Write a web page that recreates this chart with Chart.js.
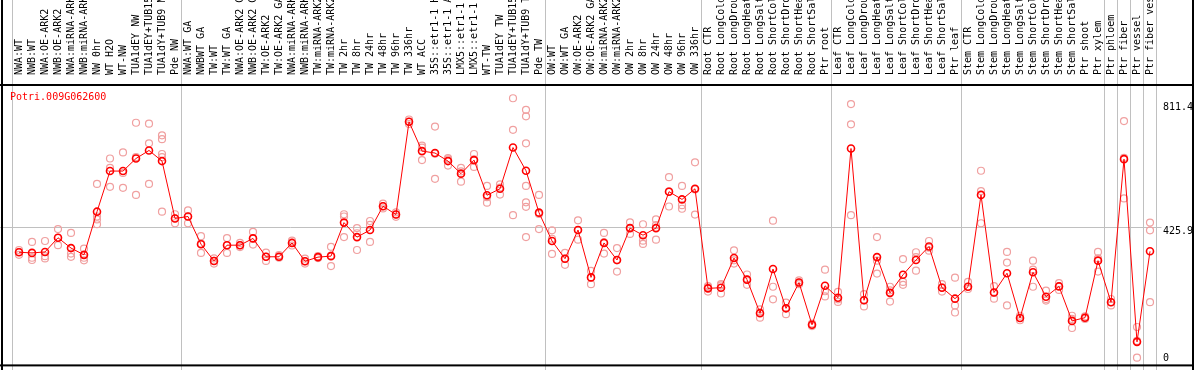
<!DOCTYPE html>
<html>
<head>
<meta charset="utf-8">
<script src="https://cdn.jsdelivr.net/npm/chart.js@4/dist/chart.umd.min.js"></script>
<style>
  html, body { margin: 0; padding: 0; background: #fff; }
</style>
</head>
<body>
<canvas id="geneChart" width="1194" height="370"></canvas>
<script>
const geneName = 'Potri.009G062600';

const categories = [
  'NWA:WT', 'NWB:WT', 'NWA:OE-ARK2', 'NWB:OE-ARK2', 'NWA:miRNA-ARK2', 'NWB:miRNA-ARK2',
  'NW 0hr', 'WT H2O', 'WT-NW', 'TUA1dEY NW', 'TUA1dEY+TUB15', 'TUA1dY+TUB9 NW', 'Pde NW',
  'NWA:WT GA', 'NWBWT GA', 'TW:WT', 'TW:WT GA', 'NWA:OE-ARK2 GA', 'NWB:OE-ARK2 GA',
  'TW:OE-ARK2', 'TW:OE-ARK2 GA', 'NWA:miRNA-ARK2', 'NWB:miRNA-ARK2', 'TW:miRNA-ARK2',
  'TW:miRNA-ARK2', 'TW 2hr', 'TW 8hr', 'TW 24hr', 'TW 48hr', 'TW 96hr', 'TW 336hr', 'WT ACC',
  '35S::etr1-1 H2O', '35S::etr1-1 ACC', 'LMX5::etr1-1 H2O', 'LMX5::etr1-1 ACC', 'WT-TW',
  'TUA1dEY TW', 'TUA1dEY+TUB15', 'TUA1dY+TUB9 TW', 'Pde TW',
  'OW:WT', 'OW:WT GA', 'OW:OE-ARK2', 'OW:OE-ARK2 GA', 'OW:miRNA-ARK2', 'OW:miRNA-ARK2',
  'OW 2hr', 'OW 8hr', 'OW 24hr', 'OW 48hr', 'OW 96hr', 'OW 336hr',
  'Root CTR', 'Root LongCold', 'Root LongDrought', 'Root LongHeat', 'Root LongSalt',
  'Root ShortCold', 'Root ShortDrought', 'Root ShortHeat', 'Root ShortSalt', 'Ptr root',
  'Leaf CTR', 'Leaf LongCold', 'Leaf LongDrought', 'Leaf LongHeat', 'Leaf LongSalt',
  'Leaf ShortCold', 'Leaf ShortDrought', 'Leaf ShortHeat', 'Leaf ShortSalt', 'Ptr leaf',
  'Stem CTR', 'Stem LongCold', 'Stem LongDrought', 'Stem LongHeat', 'Stem LongSalt',
  'Stem ShortCold', 'Stem ShortDrought', 'Stem ShortHeat', 'Stem ShortSalt', 'Ptr shoot',
  'Ptr xylem', 'Ptr phloem', 'Ptr fiber', 'Ptr vessel', 'Ptr fiber vessel'
];

// mean expression per sample (red line)
const means = [
  348, 346, 349, 393, 361, 340, 474, 600, 600, 639, 664, 631, 453,
  459, 373, 321, 370, 370, 391, 334, 334, 377, 320, 333, 336, 440, 395, 417, 491, 465,
  753, 662, 656, 631, 592, 634, 525, 545, 673, 601, 471,
  383, 328, 417, 270, 377, 324, 423, 401, 423, 536, 512, 545,
  236, 238, 330, 263, 159, 296, 174, 254, 123, 244,
  207, 670, 199, 333, 222, 278, 324, 366, 238, 204,
  241, 526, 223, 283, 144, 286, 210, 242, 135, 145, 322,
  193, 637, 70, 351
];

// individual replicates (pink circles)
const replicates = [
  [355, 349, 340], [380, 331, 324], [383, 336, 329], [420, 393, 370], [408, 344, 334],
  [359, 331, 323], [560, 459, 450, 435], [639, 610, 551], [658, 594, 548], [750, 643, 526],
  [747, 686, 560], [711, 699, 653, 643, 474], [466, 453, 438],
  [478, 459, 438], [398, 375, 346], [329, 321, 313], [392, 370, 346], [377, 370, 364],
  [411, 391, 372], [347, 334, 321], [339, 334, 331], [384, 377, 369], [328, 320, 313],
  [336, 333, 330], [365, 338, 305], [466, 459, 395], [423, 407, 355], [445, 433, 380],
  [499, 491, 484], [472, 465, 458], [760, 753, 746], [679, 673, 634], [738, 654, 576],
  [640, 636, 617], [610, 599, 567], [653, 636, 613], [554, 519, 502], [559, 549, 527],
  [826, 728, 463], [790, 770, 686, 554, 503, 489, 395], [526, 467, 420],
  [416, 390, 343], [346, 328, 309], [447, 417, 387], [290, 270, 249], [408, 379, 344],
  [361, 323, 288], [441, 423, 405], [435, 384, 374], [450, 432, 387], [581, 537, 490],
  [554, 494, 483], [627, 543, 465],
  [243, 239, 226], [249, 245, 220], [354, 323, 313], [279, 263, 247], [171, 161, 145],
  [446, 241, 202], [192, 174, 156], [261, 254, 249], [127, 123, 119], [294, 227, 211],
  [225, 202, 194], [808, 745, 463], [218, 199, 180], [395, 322, 282], [241, 230, 195],
  [327, 256, 247], [348, 333, 291], [383, 362, 353], [249, 239, 226], [269, 183, 161],
  [256, 241, 234], [601, 538, 438], [243, 222, 204], [349, 316, 183], [151, 144, 137],
  [322, 294, 241], [229, 203, 198], [252, 243, 231], [151, 141, 113], [149, 145, 141],
  [349, 329, 288],
  [203, 193, 183], [755, 641, 515], [116, 73, 21], [440, 416, 193]
];

// index of the first sample in each group (last entry closes the final group)
const groupStarts = [0, 13, 41, 53, 63, 73, 84, 85, 86, 87, 88];

const yTicks = [0, 425.9, 811.4];
const yMax = 864;

const FONT = '10px "DejaVu Sans Mono", monospace';

const meanPoints = means.map((v, i) => ({ x: i, y: v }));
const repPoints = [];
replicates.forEach((reps, i) => {
  reps.forEach(v => repPoints.push({ x: i, y: v }));
});

// gray separators, grid line, frame, title and y labels
const framePlugin = {
  id: 'frame',
  beforeDatasetsDraw(chart) {
    const { ctx, chartArea, scales } = chart;
    ctx.save();
    ctx.strokeStyle = '#c0c0c0';
    ctx.lineWidth = 1;
    groupStarts.forEach(idx => {
      const x = Math.round(scales.x.getPixelForValue(idx) - 7.5) + 0.5;
      ctx.beginPath();
      ctx.moveTo(x, 0);
      ctx.lineTo(x, chart.height);
      ctx.stroke();
    });
    const gy = Math.round(scales.y.getPixelForValue(yTicks[1])) + 0.5;
    ctx.beginPath();
    ctx.moveTo(0, gy);
    ctx.lineTo(chartArea.right + 5, gy);
    ctx.stroke();
    ctx.restore();
  },
  afterDraw(chart) {
    const { ctx, chartArea, scales } = chart;
    ctx.save();
    ctx.fillStyle = '#000';
    ctx.fillRect(1, 0, 2, chart.height);
    ctx.fillRect(chart.width - 2, 0, 2, chart.height);
    ctx.fillRect(0, chartArea.top - 2, chart.width, 2);
    ctx.fillRect(0, chartArea.bottom, chart.width, 2);

    ctx.font = FONT;
    ctx.textBaseline = 'top';
    ctx.textAlign = 'left';
    yTicks.forEach(v => {
      const py = scales.y.getPixelForValue(v);
      const top = Math.min(py - 1, chartArea.bottom - 11);
      ctx.fillText(String(v), chartArea.right + 6.5, top);
    });

    ctx.fillStyle = '#ff0000';
    ctx.fillText(geneName, 10, chartArea.top + 6);
    ctx.restore();
  }
};

const ctx = document.getElementById('geneChart').getContext('2d');
new Chart(ctx, {
  type: 'line',
  data: {
    datasets: [
      {
        type: 'line',
        label: 'mean',
        data: meanPoints,
        borderColor: '#ff0000',
        borderWidth: 1,
        tension: 0,
        pointRadius: 3.5,
        pointBorderWidth: 1.6,
        pointBorderColor: '#ff0000',
        pointBackgroundColor: 'rgba(0,0,0,0)',
        order: 1
      },
      {
        type: 'scatter',
        label: 'replicates',
        data: repPoints,
        showLine: false,
        pointRadius: 3.5,
        pointBorderWidth: 1.2,
        pointBorderColor: '#f0a0a0',
        pointBackgroundColor: 'rgba(0,0,0,0)',
        order: 2
      }
    ]
  },
  options: {
    responsive: false,
    animation: false,
    clip: false,
    layout: { padding: { left: 12.5, right: 0, top: 0, bottom: 2 } },
    plugins: {
      legend: { display: false },
      tooltip: { enabled: false }
    },
    scales: {
      x: {
        type: 'linear',
        position: 'top',
        min: -0.5,
        max: categories.length - 0.5,
        grid: { display: false },
        border: { display: false },
        afterBuildTicks: scale => {
          scale.ticks = categories.map((c, i) => ({ value: i }));
        },
        afterFit: scale => { scale.height = 86; },
        ticks: {
          autoSkip: false,
          minRotation: 90,
          maxRotation: 90,
          padding: 3,
          labelOffset: 12,
          color: '#000',
          font: { family: '"DejaVu Sans Mono", monospace', size: 10 },
          callback: v => categories[v] ?? ''
        }
      },
      y: {
        type: 'linear',
        position: 'right',
        min: 0,
        max: yMax,
        grid: { display: false },
        border: { display: false },
        ticks: { display: false },
        afterFit: scale => { scale.width = 37.5; }
      }
    }
  },
  plugins: [framePlugin]
});
</script>
</body>
</html>
